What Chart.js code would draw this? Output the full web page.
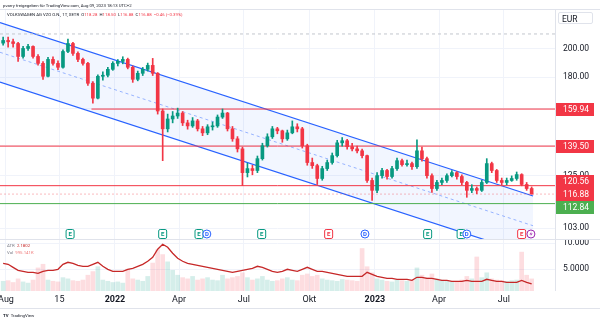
<!DOCTYPE html>
<html>
<head>
<meta charset="utf-8">
<script src="https://cdn.jsdelivr.net/npm/chart.js@4.4.0/dist/chart.umd.min.js"></script>
<style>
  body { margin: 0; width: 600px; height: 323px; overflow: hidden; background: #fff; position: relative; font-family: Roboto, sans-serif; }
  canvas { position: absolute; left: 0; }
  #c1 { top: 0; }
  #c2 { top: 240px; }
  .tiny { position: absolute; white-space: nowrap; font-size: 8.6px; transform: scale(0.5); transform-origin: 0 0; color: #131722; }
  .dn { color: #f23645; }
  .atr { color: #c62828; }
  .vol { color: #ef7a7a; }
  .lbl { color: #787b86; }
  #eur { position: absolute; left: 558px; top: 12px; width: 35px; height: 12px; border: 1px solid #e0e3eb; border-radius: 2px; font-size: 8.5px; line-height: 12px; padding-left: 3px; box-sizing: border-box; color: #131722; background: #fff; }
  #foot { position: absolute; left: 0; top: 308px; width: 600px; border-top: 1px solid #e0e3eb; }
</style>
</head>
<body>
<canvas id="c1" width="600" height="240"></canvas>
<canvas id="c2" width="600" height="83"></canvas>
<div class="tiny" style="left:3px;top:3px">pvarry freigegeben für TradingView.com, Aug 09, 2023 18:13 UTC+2</div>
<div class="tiny" style="left:7px;top:12px">VOLKSWAGEN AG VZO O.N., 1T, XETR&nbsp;&nbsp;O<span class="dn">118.28</span>&nbsp; H<span class="dn">118.50</span>&nbsp; L<span class="dn">116.88</span>&nbsp; C<span class="dn">116.88</span>&nbsp; <span class="dn">−0.46 (−0.39%)</span></div>
<div id="eur">EUR</div>
<div class="tiny" style="left:7px;top:243px"><span class="lbl">ATR</span>&nbsp; <span class="atr">2.1802</span></div>
<div class="tiny" style="left:7px;top:250px"><span class="lbl">Vol</span>&nbsp; <span class="vol">995.141K</span></div>
<div id="foot"></div>
<div class="tiny" style="left:3px;top:313px;font-weight:bold">TV&nbsp; <span style="font-weight:normal">TradingView</span></div>
<script>
// weekly candles, one per week from the week of 26 Jul 2021 to the week of 7 Aug 2023
const opens = [
  204.0, 206.0, 205.0, 203.7, 194.2, 200.0, 201.5, 194.2, 189.3, 180.5,
  192.1, 189.3, 186.6, 197.8, 203.7, 196.4, 192.1, 189.3, 175.9, 166.5,
  180.5, 181.2, 185.2, 189.3, 190.7, 192.1, 186.6, 178.5, 182.5, 185.2,
  187.9, 182.5, 158.8, 148.7, 154.2, 155.9, 157.6, 152.0, 150.3, 153.1,
  148.7, 146.5, 149.8, 150.3, 155.3, 157.6, 148.7, 143.3, 138.1, 126.5,
  128.4, 127.5, 133.2, 139.7, 144.4, 148.7, 147.6, 143.3, 146.5, 149.8,
  148.7, 139.7, 131.3, 129.8, 123.8, 128.4, 131.3, 134.7, 141.2, 142.3,
  139.2, 138.1, 137.1, 134.7, 122.9, 118.5, 125.1, 127.5, 124.7, 128.4,
  132.2, 130.3, 130.8, 129.3, 137.1, 133.2, 125.1, 119.3, 122.0, 122.9,
  125.1, 126.5, 124.7, 122.0, 118.5, 119.3, 118.5, 122.0, 130.8, 127.5,
  122.9, 122.0, 122.9, 123.8, 125.6, 121.1, 119.3
];
const highs = [
  208.5, 208.5, 207.0, 204.5, 201.5, 203.0, 202.0, 195.5, 190.5, 193.5,
  194.0, 191.0, 199.0, 207.0, 204.5, 197.5, 193.0, 190.0, 177.0, 181.5,
  183.5, 186.5, 190.5, 192.0, 194.0, 193.0, 187.5, 184.0, 186.5, 189.5,
  192.8, 183.0, 160.0, 157.0, 158.5, 160.5, 158.5, 153.5, 155.0, 154.0,
  150.0, 151.0, 152.5, 156.5, 160.0, 158.0, 150.0, 144.5, 139.0, 131.0,
  130.0, 134.5, 141.0, 146.0, 150.0, 149.5, 148.0, 148.0, 153.1, 151.5,
  149.5, 140.5, 133.5, 130.5, 129.5, 132.5, 136.0, 142.5, 144.0, 143.0,
  141.0, 139.5, 138.0, 135.0, 124.0, 126.5, 128.5, 128.0, 129.5, 133.5,
  133.0, 132.5, 131.5, 142.8, 139.0, 134.0, 126.0, 123.0, 124.0, 126.0,
  127.5, 127.0, 125.5, 122.5, 121.0, 120.0, 123.0, 133.2, 131.5, 128.0,
  124.0, 124.0, 125.0, 126.8, 126.0, 122.0, 120.0
];
const lows = [
  202.5, 201.0, 201.0, 190.7, 193.0, 198.5, 193.0, 188.0, 178.5, 180.0,
  188.0, 185.0, 186.0, 197.0, 195.0, 190.5, 188.0, 174.5, 163.5, 166.0,
  178.0, 180.0, 184.5, 187.5, 189.0, 185.5, 176.5, 177.5, 181.0, 184.0,
  181.0, 157.0, 132.2, 147.0, 152.0, 154.5, 150.5, 148.5, 149.5, 147.5,
  145.0, 145.5, 148.0, 149.5, 154.5, 147.5, 142.0, 136.5, 120.6, 124.5,
  125.5, 126.5, 132.5, 139.0, 143.5, 146.0, 141.5, 142.5, 146.0, 147.0,
  138.5, 130.0, 128.5, 121.1, 123.0, 127.5, 130.5, 134.0, 139.5, 138.0,
  137.0, 136.0, 133.5, 122.0, 114.2, 117.5, 124.0, 123.5, 124.0, 127.5,
  129.5, 129.5, 128.0, 128.5, 132.0, 124.0, 117.6, 118.5, 121.0, 122.0,
  124.5, 123.5, 121.0, 115.5, 117.5, 117.0, 118.0, 121.5, 126.5, 122.0,
  121.0, 121.0, 122.5, 123.0, 120.5, 118.5, 116.88
];
const closes = [
  206.0, 205.0, 203.7, 194.2, 200.0, 201.5, 194.2, 189.3, 180.5, 192.1,
  189.3, 186.6, 197.8, 203.7, 196.4, 192.1, 189.3, 175.9, 166.5, 180.5,
  181.2, 185.2, 189.3, 190.7, 192.1, 186.6, 178.5, 182.5, 185.2, 187.9,
  182.5, 158.8, 148.7, 154.2, 155.9, 157.6, 152.0, 150.3, 153.1, 148.7,
  146.5, 149.8, 150.3, 155.3, 157.6, 148.7, 143.3, 138.1, 126.5, 128.4,
  127.5, 133.2, 139.7, 144.4, 148.7, 147.6, 143.3, 146.5, 149.8, 148.7,
  139.7, 131.3, 129.8, 123.8, 128.4, 131.3, 134.7, 141.2, 142.3, 139.2,
  138.1, 137.1, 134.7, 122.9, 118.5, 125.1, 127.5, 124.7, 128.4, 132.2,
  130.3, 130.8, 129.3, 137.1, 133.2, 125.1, 119.3, 122.0, 122.9, 125.1,
  126.5, 124.7, 122.0, 118.5, 119.3, 118.5, 122.0, 130.8, 127.5, 122.9,
  122.0, 122.9, 123.8, 125.6, 121.1, 119.3, 116.88
];
const atr = [
  6.15, 5.96, 5.38, 4.81, 4.62, 4.42, 4.42, 4.23, 4.62, 4.81,
  4.81, 5.0, 5.96, 6.35, 6.15, 5.77, 5.58, 5.58, 5.96, 6.35,
  5.58, 5.0, 4.62, 4.62, 4.62, 5.0, 5.19, 5.58, 5.96, 6.54,
  7.31, 8.85, 9.81, 9.23, 8.08, 7.12, 6.54, 6.15, 5.96, 5.77,
  5.58, 5.38, 5.19, 5.0, 4.81, 4.62, 4.42, 4.62, 4.81, 5.0,
  5.19, 5.58, 5.38, 5.0, 4.62, 4.42, 4.62, 5.0, 4.81, 4.62,
  5.0, 5.38, 5.0, 4.62, 4.62, 4.42, 4.23, 4.04, 3.85, 3.65,
  3.65, 3.65, 3.65, 4.42, 4.04, 3.65, 3.46, 3.27, 3.27, 3.08,
  3.08, 3.08, 2.88, 3.46, 3.46, 3.27, 3.27, 3.08, 2.88, 2.88,
  2.69, 2.69, 2.69, 2.88, 2.69, 2.69, 2.69, 3.08, 2.88, 2.69,
  2.69, 2.5, 2.5, 2.5, 2.88, 2.5, 2.18
];
// volume in thousands
const volume = [
  800, 850, 700, 1000, 750, 650, 900, 1900, 2200, 900,
  800, 750, 1100, 1000, 850, 800, 900, 1300, 1600, 2000,
  900, 800, 700, 750, 650, 1800, 1000, 900, 800, 1200,
  2300, 3400, 3000, 2400, 1700, 1300, 1100, 1000, 1200, 900,
  1000, 1100, 900, 850, 1300, 1000, 1100, 1200, 1500, 1100,
  900, 1000, 1200, 900, 800, 850, 1000, 1100, 900, 850,
  1300, 1400, 1200, 1300, 1000, 900, 850, 800, 950, 900,
  850, 800, 3500, 2000, 1500, 1000, 900, 800, 750, 900,
  850, 800, 900, 1900, 1300, 1100, 1400, 1000, 900, 850,
  800, 750, 900, 1200, 1000, 2800, 1100, 1500, 1000, 900,
  850, 800, 850, 900, 3200, 1300, 995
];

// x values are calendar days counted from 1 Aug 2021; each weekly candle sits on its Wednesday
const weekDays = opens.map((_, i) => -4 + 7 * i);

const tickDays = [0, 75, 153, 243, 334, 426, 518, 608, 699];
const tickLabels = ['Aug', '15', '2022', 'Apr', 'Jul', 'Okt', '2023', 'Apr', 'Jul'];
const priceTicks = [103, 125, 140, 160, 180, 200];
const atrTicks = [5, 10];

const levels = [159.94, 139.50, 120.56];
const levelStart = [120, -8.4, -8.4];
const support = 112.84;
const lastPrice = 116.88;
const refLine = 211;

const channelDays = [-8.4, 740];
const channelUpper = [220.1, 116.05];
const channelMid = [197.2, 104.0];
const channelLower = [176.7, 93.2];

const eventDays = [90, 220, 271, 282, 359, 453, 504, 592, 639, 647, 724, 737];
const eventKinds = ['E', 'E', 'E', 'D', 'E', 'R', 'D', 'E', 'E', 'D', 'R', 'S'];

const X_MIN = -8.4, X_MAX = 770.8;
const UP = '#089981', DOWN = '#f23645', GRID = '#f0f3fa', LINE = '#e0e3eb';

Chart.defaults.font.family = 'Roboto, sans-serif';
Chart.defaults.color = '#131722';
Chart.defaults.animation = false;

const candleColors = opens.map((o, i) => closes[i] >= o ? UP : DOWN);

const flat = (days, vals) => days.map((d, i) => ({ x: d, y: vals[i] }));
const hline = (from, v, color, dash) => ({
  type: 'line', data: [{ x: from, y: v }, { x: X_MAX, y: v }],
  borderColor: color, borderWidth: 1, borderDash: dash || [], pointRadius: 0, order: 3
});

function zeroPad(s) { s.paddingLeft = 0; s.paddingRight = 0; s.paddingTop = 0; s.paddingBottom = 0; }

const mainDecor = {
  id: 'mainDecor',
  afterDatasetsDraw(chart) {
    const { ctx, scales: { x } } = chart;
    ctx.save();
    ctx.font = 'bold 6px Roboto, sans-serif';
    ctx.textAlign = 'center';
    ctx.textBaseline = 'middle';
    eventDays.forEach((d, i) => {
      const k = eventKinds[i];
      const cx = x.getPixelForValue(d), cy = 234;
      const col = k === 'E' ? UP : k === 'D' ? '#2962ff' : k === 'R' ? DOWN : '#9c27b0';
      ctx.fillStyle = '#fff';
      ctx.strokeStyle = col;
      ctx.lineWidth = 1;
      ctx.beginPath();
      if (k === 'D' || k === 'S') ctx.arc(cx, cy, 4, 0, Math.PI * 2);
      else ctx.roundRect(cx - 4, cy - 4.5, 8, 9, 1.5);
      ctx.fill();
      ctx.stroke();
      ctx.fillStyle = col;
      if (k === 'S') {
        ctx.beginPath();
        ctx.moveTo(cx + 1, cy - 3); ctx.lineTo(cx - 1.5, cy + 0.5); ctx.lineTo(cx + 0.5, cy + 0.5);
        ctx.lineTo(cx - 1, cy + 3); ctx.lineTo(cx + 1.8, cy - 0.5); ctx.lineTo(cx - 0.2, cy - 0.5);
        ctx.closePath(); ctx.fill();
      } else {
        ctx.fillText(k === 'R' ? 'E' : k, cx, cy + 0.5);
      }
    });
    ctx.restore();
  },
  afterDraw(chart) {
    const { ctx, chartArea: a, scales: { y } } = chart;
    ctx.save();
    ctx.strokeStyle = LINE;
    ctx.lineWidth = 1;
    ctx.beginPath();
    ctx.moveTo(0, a.top - 0.5); ctx.lineTo(600, a.top - 0.5);
    ctx.moveTo(a.right + 0.5, a.top); ctx.lineTo(a.right + 0.5, a.bottom);
    ctx.moveTo(0, a.bottom + 0.5); ctx.lineTo(600, a.bottom + 0.5);
    ctx.stroke();

    const tags = levels.map(v => ({ v, c: DOWN }));
    tags.push({ v: support, c: '#4caf50' });
    const yLast = y.getPixelForValue(lastPrice);
    tags.forEach(t => {
      let p = y.getPixelForValue(t.v);
      if (Math.abs(p - yLast) < 13) p = p < yLast ? yLast - 13 : yLast + 13;
      t.p = p;
    });
    tags.push({ v: lastPrice, c: DOWN, p: yLast });
    ctx.font = '8.5px Roboto, sans-serif';
    ctx.textBaseline = 'middle';
    ctx.textAlign = 'left';
    tags.forEach(t => {
      ctx.fillStyle = t.c;
      ctx.fillRect(a.right + 1, Math.round(t.p - 6.5), 38, 13);
      ctx.fillStyle = '#fff';
      ctx.fillText(t.v.toFixed(2), a.right + 8, t.p + 0.5);
    });
    ctx.restore();
  }
};

new Chart(document.getElementById('c1'), {
  type: 'bar',
  data: {
    datasets: [
      {
        data: weekDays.map((d, i) => ({ x: d, y: [opens[i], closes[i]] })),
        backgroundColor: candleColors, barThickness: 3, minBarLength: 1, grouped: false, order: 0
      },
      {
        data: weekDays.map((d, i) => ({ x: d, y: [lows[i], highs[i]] })),
        backgroundColor: candleColors, barThickness: 1, grouped: false, order: 1
      },
      ...levels.map((v, i) => hline(levelStart[i], v, DOWN)),
      hline(X_MIN, support, '#4caf50'),
      hline(X_MIN, lastPrice, 'rgba(242,54,69,0.35)', [2, 2]),
      hline(X_MIN, refLine, '#c3c6ce', [3, 3]),
      {
        type: 'line', data: flat(channelDays, channelUpper), borderColor: '#2962ff', borderWidth: 1.2,
        pointRadius: 0, fill: { target: '+1' }, backgroundColor: 'rgba(41,98,255,0.06)', order: 4
      },
      {
        type: 'line', data: flat(channelDays, channelLower), borderColor: '#2962ff', borderWidth: 1.2,
        pointRadius: 0, fill: false, order: 4
      },
      {
        type: 'line', data: flat(channelDays, channelMid), borderColor: 'rgba(41,98,255,0.45)', borderWidth: 1,
        borderDash: [3, 3], pointRadius: 0, fill: false, order: 4
      }
    ]
  },
  options: {
    responsive: false,
    events: [],
    layout: { padding: { top: 10, bottom: 1, left: 0, right: 0 } },
    plugins: { legend: { display: false }, tooltip: { enabled: false } },
    scales: {
      x: {
        type: 'linear', min: X_MIN, max: X_MAX, offset: false,
        grid: { color: GRID, drawTicks: false, offset: false },
        border: { display: false },
        ticks: { display: false },
        afterBuildTicks: s => { s.ticks = tickDays.map(v => ({ value: v })); },
        afterFit: s => { s.height = 0; zeroPad(s); }
      },
      y: {
        type: 'logarithmic', position: 'right', min: 99.03, max: 230.5, bounds: 'data',
        grid: { color: GRID, drawTicks: false },
        border: { display: false },
        ticks: { padding: 8, font: { size: 8.5 }, color: '#131722', callback: v => Number(v).toFixed(2) },
        afterBuildTicks: s => { s.ticks = priceTicks.map(v => ({ value: v })); },
        afterFit: s => { s.width = 45; zeroPad(s); }
      }
    }
  },
  plugins: [mainDecor]
});

const lowerDecor = {
  id: 'lowerDecor',
  afterDraw(chart) {
    const { ctx, chartArea: a } = chart;
    ctx.save();
    ctx.strokeStyle = LINE;
    ctx.beginPath();
    ctx.moveTo(a.right + 0.5, 0); ctx.lineTo(a.right + 0.5, a.bottom);
    ctx.stroke();
    ctx.restore();
  }
};

const volColors = opens.map((o, i) => closes[i] >= o ? 'rgba(8,153,129,0.17)' : 'rgba(242,54,69,0.17)');

new Chart(document.getElementById('c2'), {
  type: 'bar',
  data: {
    datasets: [
      {
        type: 'line', data: flat(weekDays, atr), yAxisID: 'ya', borderColor: '#c62828', borderWidth: 1.3,
        pointRadius: 0, tension: 0, order: 0
      },
      {
        data: flat(weekDays, volume), yAxisID: 'yv', backgroundColor: volColors,
        barThickness: 4, grouped: false, order: 1
      }
    ]
  },
  options: {
    responsive: false,
    events: [],
    layout: { padding: 0 },
    plugins: { legend: { display: false }, tooltip: { enabled: false } },
    scales: {
      x: {
        type: 'linear', min: X_MIN, max: X_MAX, offset: false,
        grid: { color: GRID, drawTicks: false, offset: false },
        border: { display: false },
        ticks: {
          padding: 3, color: '#131722', maxRotation: 0, autoSkip: false,
          font: c => ({ size: 9, weight: /^\d{4}$/.test(tickLabels[c.index]) ? 'bold' : 'normal' }),
          callback: (v, i) => tickLabels[i]
        },
        afterBuildTicks: s => { s.ticks = tickDays.map(v => ({ value: v })); },
        afterFit: s => { s.height = 32; zeroPad(s); }
      },
      ya: {
        type: 'linear', position: 'right', min: 0.83, max: 10.63,
        grid: { color: GRID, drawTicks: false },
        border: { display: false },
        ticks: { padding: 8, font: { size: 8.5 }, color: '#131722', callback: v => Number(v).toPrecision(5) },
        afterBuildTicks: s => { s.ticks = atrTicks.map(v => ({ value: v })); },
        afterFit: s => { s.width = 45; zeroPad(s); }
      },
      yv: { type: 'linear', display: false, min: 0, max: 4200 }
    }
  },
  plugins: [lowerDecor]
});
</script>
</body>
</html>
